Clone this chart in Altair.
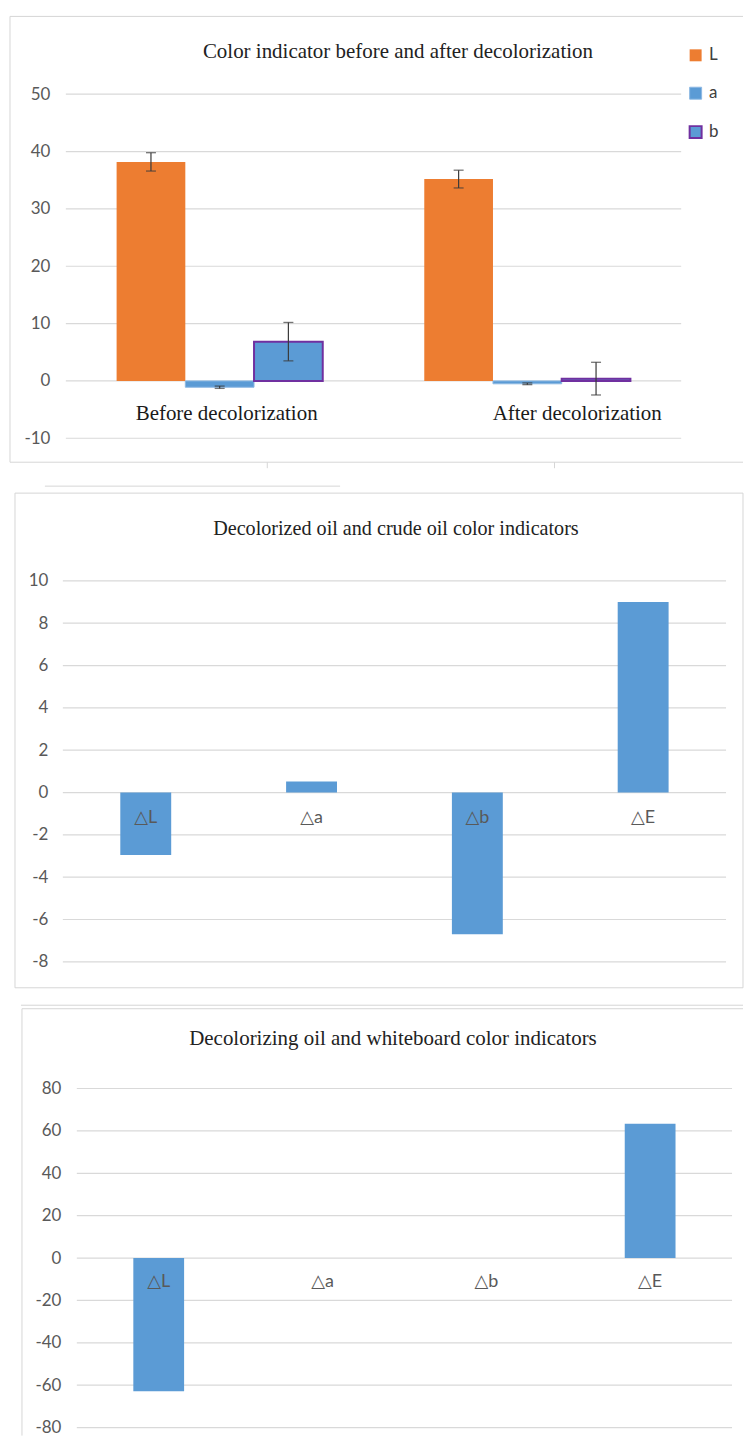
import altair as alt
import pandas as pd

# ---------------- data ----------------
cats1 = ["Before decolorization", "After decolorization"]
series1 = ["L", "a", "b"]
before_vals = [38.2, -1.1, 6.85]
after_vals = [35.2, -0.5, 0.4]
before_err = [1.6, 0.2, 3.35]
after_err = [1.55, 0.15, 2.85]
fill_colors = ["#ed7d31", "#5b9bd5", "#5b9bd5"]
stroke_colors = ["#ed7d31", "#8db9e3", "#7030a0"]
stroke_widths = [0, 2, 4]
ticks1 = [-10, 0, 10, 20, 30, 40, 50]

labels2 = ["△L", "△a", "△b", "△E"]
vals2 = [-2.95, 0.52, -6.7, 9.0]
ticks2 = [-8, -6, -4, -2, 0, 2, 4, 6, 8, 10]

labels3 = ["△L", "△a", "△b", "△E"]
vals3 = [-62.9, 0.0, 0.0, 63.4]
ticks3 = [-80, -60, -40, -20, 0, 20, 40, 60, 80]

titles = [
    "Color indicator before and after decolorization",
    "Decolorized oil and crude oil color indicators",
    "Decolorizing oil and whiteboard color indicators",
]

BORDER = "#d6d6d6"
GRID = "#d9d9d9"
SERIF = "Liberation Serif"
SANS = "Lato, DejaVu Sans"
BLUE = "#5b9bd5"
X0 = 62  # common plot origin (page x) of the three stacked panels

rows = []
for cat, vals, errs in zip(cats1, [before_vals, after_vals], [before_err, after_err]):
    for s, v, e in zip(series1, vals, errs):
        rows.append({"cat": cat, "series": s, "value": v, "lo": v - e, "hi": v + e})
df1 = pd.DataFrame(rows)

one = pd.DataFrame({"k": [0]})


def hline(x1, x2, y, color=BORDER, w=1):
    return alt.Chart(one).mark_rule(color=color, strokeWidth=w).encode(
        x=alt.value(x1), x2=alt.value(x2), y=alt.value(y))


def vline(x, y1, y2, color=BORDER, w=1):
    return alt.Chart(one).mark_rule(color=color, strokeWidth=w).encode(
        x=alt.value(x), y=alt.value(y1), y2=alt.value(y2))


def title_text(txt, x, y, size=21):
    return alt.Chart(one).mark_text(font=SERIF, fontSize=size, color="#222222",
                                    align="center", baseline="middle").encode(
        x=alt.value(x), y=alt.value(y), text=alt.value(txt))


def grid_rules(ticks, yscale, x1, x2):
    return alt.Chart(pd.DataFrame({"t": ticks})).mark_rule(
        color=GRID, strokeWidth=1.2).encode(
        x=alt.value(x1), x2=alt.value(x2),
        y=alt.Y("t:Q", scale=yscale,
                axis=alt.Axis(values=ticks, title=None, grid=False)))


# ---------------- panel 1 ----------------
# plot area on page: x 65..682, y 92..437
L1, W1, H1, oy1 = 65 - X0, 617, 345, 92
xs1 = alt.X("cat:N", sort=cats1, axis=None,
            scale=alt.Scale(range=[L1, L1 + W1], paddingInner=0.33, paddingOuter=0.165))
xo1 = alt.XOffset("series:N", sort=series1,
                  scale=alt.Scale(paddingInner=0, paddingOuter=0))
ysc1 = alt.Scale(domain=[-10, 50], nice=False)
yax1 = alt.Axis(values=ticks1, title=None, grid=False, labelPadding=13)

leg = dict(title=None, orient="none", legendX=626, legendY=-47.5,
           symbolType="square", symbolSize=144, symbolStrokeWidth=3,
           labelFont=SANS, labelFontSize=17, labelColor="#404040",
           rowPadding=20, labelOffset=5, padding=0)

bars1 = alt.Chart(df1).mark_bar().encode(
    x=xs1, xOffset=xo1,
    y=alt.Y("value:Q", scale=ysc1, axis=yax1),
    fill=alt.Fill("series:N", scale=alt.Scale(domain=series1, range=fill_colors),
                  legend=alt.Legend(**leg)),
    stroke=alt.Stroke("series:N", scale=alt.Scale(domain=series1, range=stroke_colors),
                      legend=alt.Legend(**leg)),
    strokeWidth=alt.StrokeWidth("series:N",
                                scale=alt.Scale(domain=series1, range=stroke_widths),
                                legend=None),
)
err_rule = alt.Chart(df1).mark_rule(color="#3a3a3a", strokeWidth=1.2).encode(
    x=xs1, xOffset=xo1,
    y=alt.Y("lo:Q", scale=ysc1, axis=yax1), y2="hi:Q")
cap_lo = alt.Chart(df1).mark_tick(color="#3a3a3a", size=10, thickness=1.3).encode(
    x=xs1, xOffset=xo1, y=alt.Y("lo:Q", scale=ysc1, axis=yax1))
cap_hi = alt.Chart(df1).mark_tick(color="#3a3a3a", size=10, thickness=1.3).encode(
    x=xs1, xOffset=xo1, y=alt.Y("hi:Q", scale=ysc1, axis=yax1))

lab_a = alt.Chart(pd.DataFrame({"cat": [cats1[0]]})).mark_text(
    font=SERIF, fontSize=21, color="#1a1a1a", dy=33, dx=7, baseline="middle").encode(
    x=xs1, y=alt.datum(0), text="cat:N")
lab_b = alt.Chart(pd.DataFrame({"cat": [cats1[1]]})).mark_text(
    font=SERIF, fontSize=21, color="#1a1a1a", dy=33, dx=50, baseline="middle").encode(
    x=xs1, y=alt.datum(0), text="cat:N")

deco1 = [
    hline(8 - X0, 9 - X0, 14 - oy1, color="white"),
    hline(9 - X0, 744 - X0, 14 - oy1),
    hline(9 - X0, 744 - X0, 461 - oy1),
    vline(9 - X0, 14 - oy1, 461 - oy1),
    vline(267 - X0, 461 - oy1, 467 - oy1),
    vline(555 - X0, 461 - oy1, 467 - oy1),
    title_text(titles[0], 398 - X0, 50 - oy1),
]

p1 = alt.layer(*deco1, grid_rules(ticks1, ysc1, L1, L1 + W1),
               bars1, err_rule, cap_lo, cap_hi, lab_a, lab_b).properties(
    width=L1 + W1, height=H1)

# ---------------- panel 2 ----------------
# plot area on page: x 62..727, y 579..961
L2, W2, H2, oy2 = 62 - X0, 665, 382, 579
df2 = pd.DataFrame({"label": labels2, "value": vals2})
xs2 = alt.X("label:N", sort=labels2, axis=None,
            scale=alt.Scale(range=[L2, L2 + W2], paddingInner=0.693, paddingOuter=0.3465))
ysc2 = alt.Scale(domain=[-8, 10], nice=False)
bars2 = alt.Chart(df2).mark_bar(color=BLUE).encode(
    x=xs2, y=alt.Y("value:Q", scale=ysc2,
                   axis=alt.Axis(values=ticks2, title=None, grid=False, labelPadding=15)))
text2 = alt.Chart(df2).mark_text(font=SANS, fontSize=18, color="#595959",
                                 dy=26, baseline="middle").encode(
    x=xs2, y=alt.datum(0), text="label:N")
deco2 = [
    hline(8 - X0, 9 - X0, 491 - oy2, color="white"),
    hline(44 - X0, 340 - X0, 484 - oy2),
    hline(14 - X0, 744 - X0, 491 - oy2),
    hline(14 - X0, 744 - X0, 987 - oy2),
    vline(14 - X0, 491 - oy2, 987 - oy2),
    vline(744 - X0, 491 - oy2, 987 - oy2),
    title_text(titles[1], 396 - X0, 527 - oy2, size=20.2),
]
p2 = alt.layer(*deco2, grid_rules(ticks2, ysc2, L2, L2 + W2),
               bars2, text2).properties(width=L2 + W2, height=H2)

# ---------------- panel 3 ----------------
# plot area on page: x 76..733, y 1088..1428
L3, W3, H3, oy3 = 76 - X0, 657, 340, 1088
df3 = pd.DataFrame({"label": labels3, "value": vals3})
xs3 = alt.X("label:N", sort=labels3, axis=None,
            scale=alt.Scale(range=[L3, L3 + W3], paddingInner=0.69, paddingOuter=0.345))
ysc3 = alt.Scale(domain=[-80, 80], nice=False)
bars3 = alt.Chart(df3).mark_bar(color=BLUE).encode(
    x=xs3, y=alt.Y("value:Q", scale=ysc3,
                   axis=alt.Axis(values=ticks3, title=None, grid=False, labelPadding=2)))
text3 = alt.Chart(df3).mark_text(font=SANS, fontSize=18, color="#595959",
                                 dy=24, baseline="middle").encode(
    x=xs3, y=alt.datum(0), text="label:N")
deco3 = [
    hline(8 - X0, 9 - X0, 1010 - oy3, color="white"),
    hline(20 - X0, 744 - X0, 1004.5 - oy3),
    hline(21 - X0, 744 - X0, 1008 - oy3),
    vline(21 - X0, 1008 - oy3, 1436 - oy3),
    title_text(titles[2], 393 - X0, 1038 - oy3),
]
p3 = alt.layer(*deco3, grid_rules(ticks3, ysc3, L3, L3 + W3),
               bars3, text3).properties(width=L3 + W3, height=H3)

chart = alt.vconcat(p1, p2, p3, spacing=16).resolve_scale(
    fill="independent", stroke="independent", strokeWidth="independent"
).resolve_legend(fill="independent", stroke="independent").properties(
    padding={"left": 0, "top": 5.5, "right": 0, "bottom": 0}
).configure_view(stroke=None).configure_axisY(
    domain=False, ticks=False, grid=False, labelFont=SANS, labelFontSize=17,
    labelColor="#595959", labelExpr="'' + datum.value"
)

chart.save("out.html", embed_options={"renderer": "svg", "actions": False})
